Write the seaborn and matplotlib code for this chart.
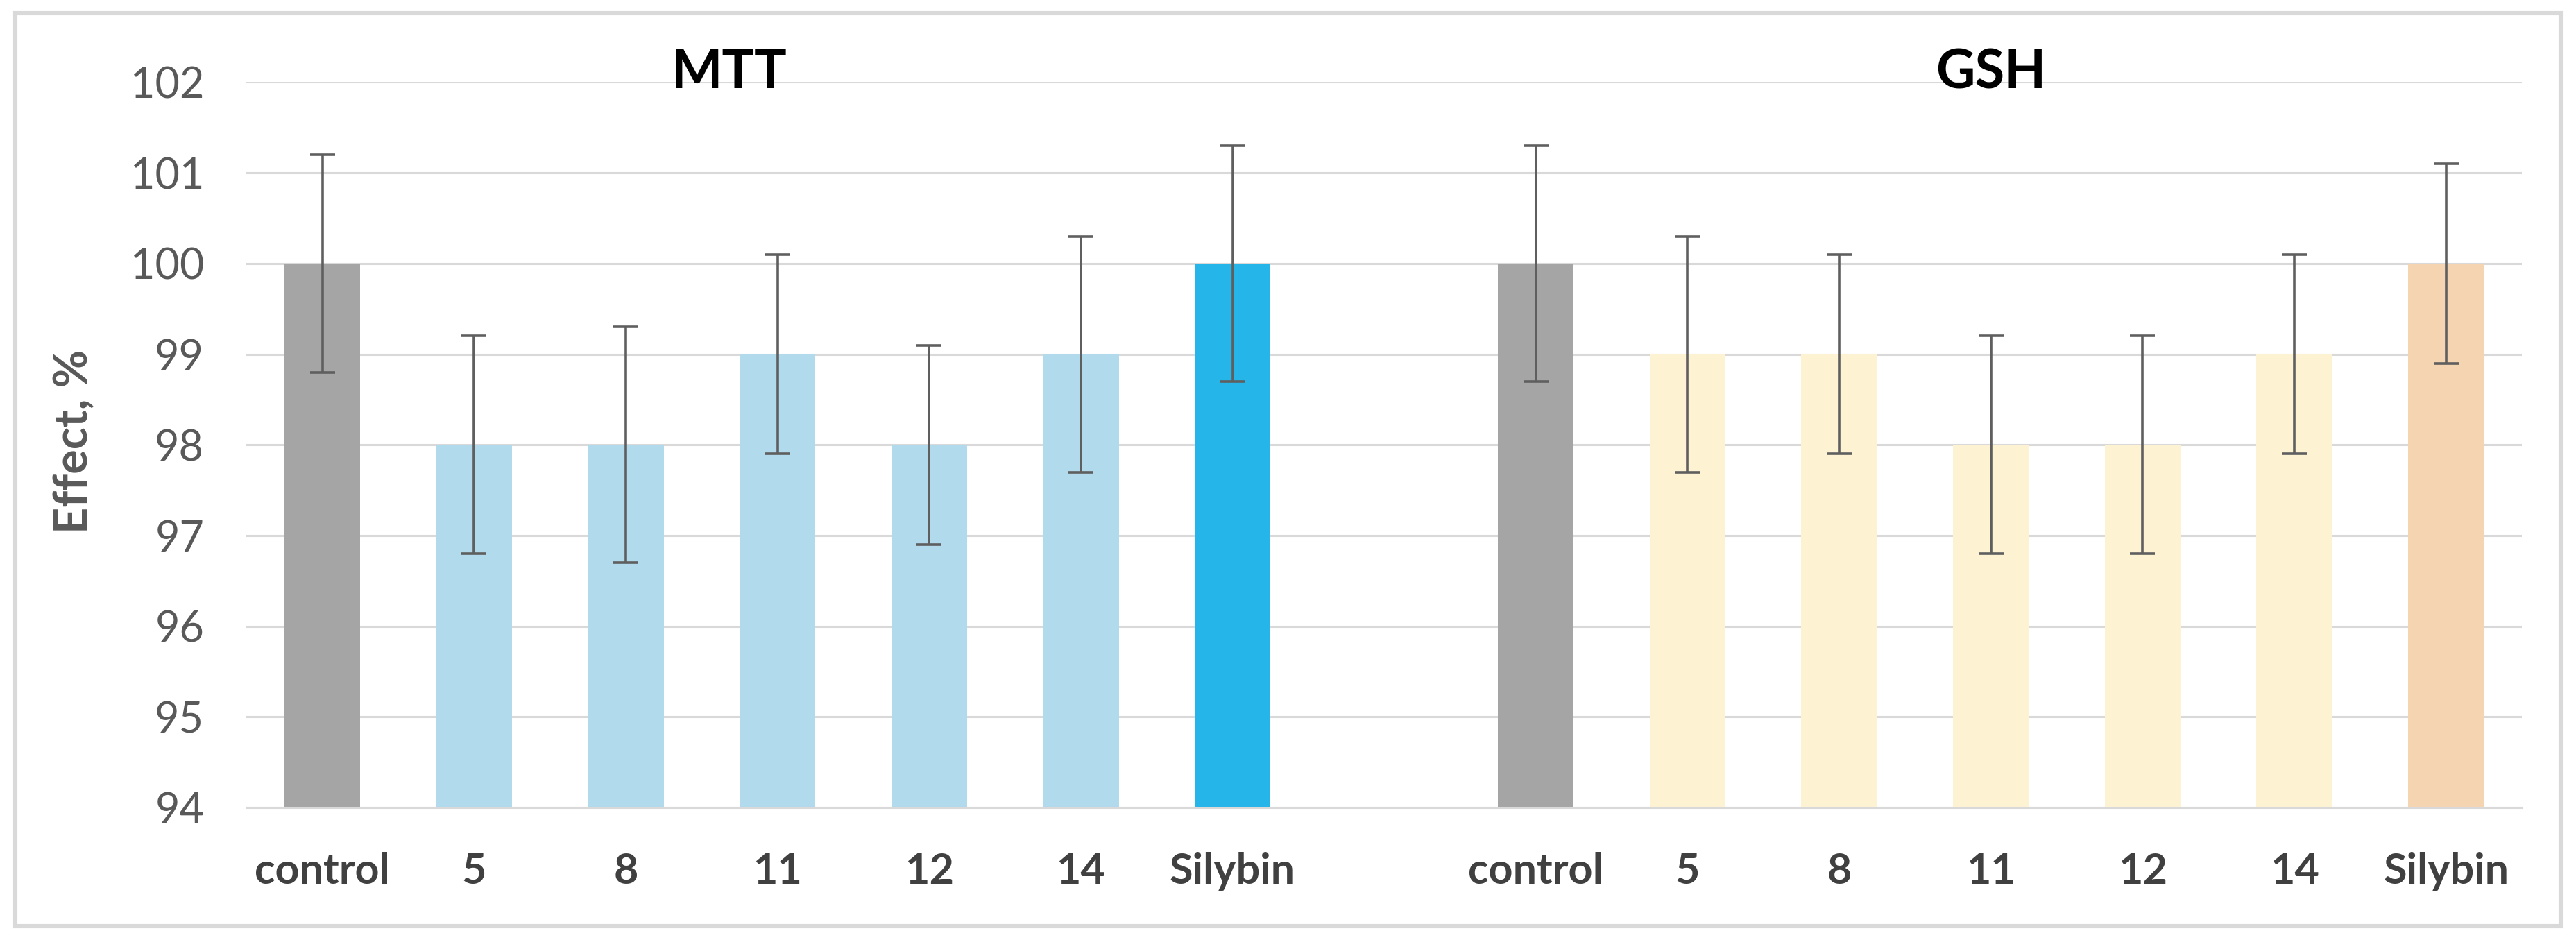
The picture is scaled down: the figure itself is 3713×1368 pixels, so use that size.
import matplotlib
matplotlib.use('Agg')
import matplotlib.pyplot as plt
import seaborn as sns
import pandas as pd

# ---- data ----
groups = ['MTT', 'GSH']
categories = ['control', '5', '8', '11', '12', '14', 'Silybin']
mtt_values = [100, 98, 98, 99, 98, 99, 100]
mtt_errors = [1.2, 1.2, 1.3, 1.1, 1.1, 1.3, 1.3]
gsh_values = [100, 99, 99, 98, 98, 99, 100]
gsh_errors = [1.3, 1.3, 1.1, 1.2, 1.2, 1.1, 1.1]
y_ticks = [94, 95, 96, 97, 98, 99, 100, 101, 102]
y_label = 'Effect, %'

# ---- styles ----
mtt_colors = ['#A5A5A5', '#B1DAEC', '#B1DAEC', '#B1DAEC', '#B1DAEC', '#B1DAEC', '#25B5E8']
gsh_colors = ['#A5A5A5', '#FDF3D3', '#FDF3D3', '#FDF3D3', '#FDF3D3', '#FDF3D3', '#F5D4B1']

sns.set_theme(style='white')
plt.rcParams['font.family'] = ['Lato', 'DejaVu Sans']

rows = []
for g, vals, errs, cols in [('MTT', mtt_values, mtt_errors, mtt_colors),
                            ('GSH', gsh_values, gsh_errors, gsh_colors)]:
    for c, v, e, col in zip(categories, vals, errs, cols):
        rows.append({'key': f'{g}|{c}', 'group': g, 'cat': c, 'value': v, 'err': e, 'color': col})
df = pd.DataFrame(rows)

order = [f'MTT|{c}' for c in categories] + ['gap'] + [f'GSH|{c}' for c in categories]
palette = dict(zip(df['key'], df['color']))

fig = plt.figure(figsize=(18.565, 6.84), dpi=200)
ax = fig.add_axes([0.0957, 0.149, 0.979 - 0.0957, 0.9134 - 0.149])

sns.barplot(data=df, x='key', y='value', order=order, hue='key', palette=palette,
            errorbar=None, width=0.5, legend=False, ax=ax, saturation=1, zorder=2,
            linewidth=0)

xpos = [order.index(k) for k in df['key']]
ax.errorbar(xpos, df['value'], yerr=df['err'], fmt='none', ecolor='#5F5F5F',
            elinewidth=1.3, capsize=6.5, capthick=1.3, zorder=3)

ax.set_ylim(94, 102)
ax.set_xlim(-0.5, len(order) - 0.5)
ax.set_yticks(y_ticks)
ax.set_yticklabels([str(t) for t in y_ticks])
ax.set_xticks(range(len(order)))
ax.set_xticklabels(categories + [''] + categories)

ax.yaxis.grid(True, color='#D9D9D9', linewidth=1.1, zorder=0)
ax.xaxis.grid(False)
ax.set_axisbelow(True)
for s in ['top', 'left', 'right']:
    ax.spines[s].set_visible(False)
ax.spines['bottom'].set_color('#D9D9D9')
ax.spines['bottom'].set_linewidth(1.1)

ax.tick_params(axis='y', length=0, pad=22, labelsize=22, labelcolor='#595959')
ax.tick_params(axis='x', length=0, pad=23, labelsize=22, labelcolor='#404040')
for lbl in ax.get_xticklabels():
    lbl.set_fontweight('bold')

ax.set_xlabel('')
ax.set_ylabel('')
fig.text(0.029, 0.535, y_label, rotation=90, ha='center', va='center',
         fontsize=24, fontweight='bold', color='#595959')

# group titles
ax.text(2.68, 102.1, groups[0], ha='center', va='center', fontsize=28,
        fontweight='bold', color='black', zorder=4)
ax.text(11.0, 102.1, groups[1], ha='center', va='center', fontsize=28,
        fontweight='bold', color='black', zorder=4)

# outer frame
fig.add_artist(plt.Rectangle((0.006, 0.024), 0.988, 0.962, transform=fig.transFigure,
                             fill=False, edgecolor='#D9D9D9', linewidth=2.2))

fig.savefig('out.png', dpi=200, facecolor='white')
